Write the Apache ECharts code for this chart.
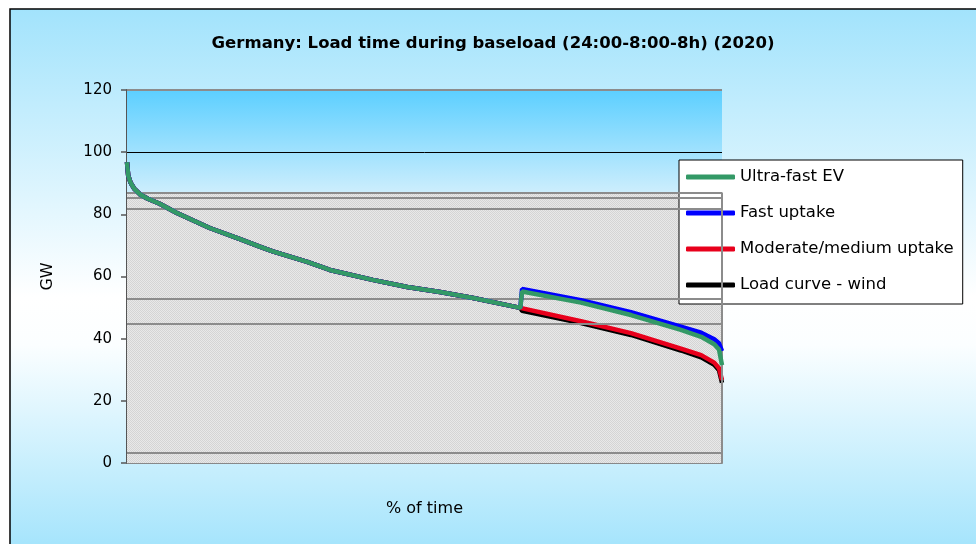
<!DOCTYPE html>
<html>
<head>
<meta charset="utf-8">
<script src="https://cdn.jsdelivr.net/npm/echarts@6/dist/echarts.min.js"></script>
<style>
  html, body { margin: 0; padding: 0; background: #fff; }
  #chart { width: 976px; height: 544px; }
</style>
</head>
<body>
<div id="chart"></div>
<script>
// shared load curve before the EV charging window (% of time -> GW)
const basePct = [0, 0.2, 0.6, 1.2, 2.2, 3.5, 5.5, 8.3, 13.9, 19.0, 22.3, 24.5, 30.3, 34.1, 41.3, 47.1, 52.6, 58.2, 63.9, 66.1]
const baseLoad = [96.8, 92.5, 90.2, 88.3, 86.4, 85.0, 83.4, 80.5, 75.6, 72.0, 69.6, 68.1, 64.7, 62.1, 58.9, 56.6, 55.0, 53.1, 50.8, 49.9]

// after the jump each scenario has its own tail
const tailPct = [66.4, 76.3, 84.7, 93.1, 96.5, 98.7, 99.5, 100]
const ultraFast = [55.2, 51.6, 47.6, 42.8, 40.6, 38.2, 36.5, 31.5]
const fastUptake = [56.0, 52.4, 48.5, 43.9, 41.9, 39.8, 38.5, 36.0]
const moderate = [49.5, 45.6, 41.8, 36.8, 34.7, 32.3, 30.5, 26.7]
const loadWind = [49.0, 45.0, 41.2, 36.2, 34.0, 31.6, 29.8, 25.8]

const seriesNames = ['Ultra-fast EV', 'Fast uptake', 'Moderate/medium uptake', 'Load curve - wind']

// background bands inside the plot (GW)
const bandTop = 87
const bandLines = [86.9, 85.3, 81.7, 52.8, 44.7, 3.2]
const yTicks = { min: 0, max: 120, interval: 20 }

function curve (tail) {
  const pts = basePct.map((p, i) => [p, baseLoad[i]])
  return pts.concat(tailPct.map((p, i) => [p, tail[i]]))
}

// dotted grey fill like the original
const dots = document.createElement('canvas')
dots.width = 2
dots.height = 2
const dctx = dots.getContext('2d')
dctx.fillStyle = '#e8e8e8'
dctx.fillRect(0, 0, 2, 2)
dctx.fillStyle = '#d4d4d4'
dctx.fillRect(0, 0, 1, 1)
dctx.fillRect(1, 1, 1, 1)

const chart = echarts.init(document.getElementById('chart'))

const lineSeries = (name, tail, color, z) => ({
  name,
  type: 'line',
  data: curve(tail),
  showSymbol: false,
  symbol: 'none',
  z,
  lineStyle: { color, width: 4.5 },
  itemStyle: { color },
  animation: false
})

const option = {
  animation: false,
  graphic: [
    {
      type: 'rect',
      z: -10,
      shape: { x: 10, y: 9, width: 1000, height: 600 },
      style: {
        fill: new echarts.graphic.LinearGradient(0, 0, 0, 1, [
          { offset: 0, color: '#a2e3fc' },
          { offset: 0.48, color: '#ffffff' },
          { offset: 0.56, color: '#fbfeff' },
          { offset: 0.9, color: '#a4e4fc' },
          { offset: 1, color: '#a0e3fc' }
        ]),
        stroke: '#000',
        lineWidth: 1.5
      }
    },
    {
      type: 'text',
      x: 493,
      y: 44,
      style: {
        text: 'Germany: Load time during baseload (24:00-8:00-8h) (2020)',
        fontFamily: 'DejaVu Sans',
        fontWeight: 'bold',
        fontSize: 16.5,
        fill: '#000',
        textAlign: 'center',
        textVerticalAlign: 'middle'
      }
    }
  ],
  legend: {
    orient: 'vertical',
    left: 679,
    top: 160,
    padding: [7, 9, 9, 7],
    itemGap: 16,
    itemWidth: 49,
    itemHeight: 5,
    icon: 'roundRect',
    backgroundColor: '#fff',
    borderColor: '#000',
    borderWidth: 1,
    borderRadius: 0,
    textStyle: { fontFamily: 'DejaVu Sans', fontSize: 16.5, color: '#000', lineHeight: 20 },
    data: seriesNames
  },
  grid: { left: 127, right: 254, top: 90, bottom: 81 },
  xAxis: {
    type: 'value',
    min: 0,
    max: 100,
    name: '% of time',
    nameLocation: 'middle',
    nameGap: 38,
    nameTextStyle: { fontFamily: 'DejaVu Sans', fontSize: 16, color: '#000' },
    axisLine: { show: true, lineStyle: { color: '#888', width: 2 } },
    axisTick: { show: false },
    axisLabel: { show: false },
    splitLine: { show: false }
  },
  yAxis: {
    type: 'value',
    min: yTicks.min,
    max: yTicks.max,
    interval: yTicks.interval,
    name: 'GW',
    nameLocation: 'middle',
    nameRotate: 90,
    nameGap: 71,
    nameTextStyle: { fontFamily: 'DejaVu Sans', fontSize: 16, color: '#000' },
    axisLine: { show: true, lineStyle: { color: '#555', width: 2 } },
    axisTick: { show: true, length: 6, lineStyle: { color: '#555', width: 1.5 } },
    axisLabel: { fontFamily: 'DejaVu Sans', fontSize: 15, color: '#000', margin: 15 },
    splitLine: { show: false }
  },
  series: [
    {
      type: 'line',
      data: [],
      z: 1,
      silent: true,
      markArea: {
        silent: true,
        data: [
          [
            {
              yAxis: bandTop,
              itemStyle: {
                color: new echarts.graphic.LinearGradient(0, 0, 0, 1, [
                  { offset: 0, color: '#5ccfff' },
                  { offset: 1, color: '#cdeefd' }
                ])
              }
            },
            { yAxis: yTicks.max }
          ],
          [
            { yAxis: 0, itemStyle: { color: { image: dots, repeat: 'repeat' } } },
            { yAxis: bandTop }
          ]
        ]
      }
    },
    {
      type: 'line',
      data: [],
      z: 2,
      silent: true,
      markLine: {
        silent: true,
        symbol: 'none',
        label: { show: false },
        data: bandLines.map(v => ({ yAxis: v, lineStyle: { color: '#8c8c8c', width: 2, type: 'solid' } }))
          .concat([
            { yAxis: yTicks.max, lineStyle: { color: '#8c8c8c', width: 2, type: 'solid' } },
            { yAxis: 100, lineStyle: { color: '#000', width: 1, type: 'solid' } },
            [
              { coord: [100, 0], lineStyle: { color: '#8c8c8c', width: 2, type: 'solid' } },
              { coord: [100, bandTop] }
            ]
          ])
      }
    },
    lineSeries(seriesNames[3], loadWind, '#000000', 3),
    lineSeries(seriesNames[2], moderate, '#e8001c', 4),
    lineSeries(seriesNames[1], fastUptake, '#0000ff', 5),
    lineSeries(seriesNames[0], ultraFast, '#339966', 6)
  ]
}

chart.setOption(option)
</script>
</body>
</html>
